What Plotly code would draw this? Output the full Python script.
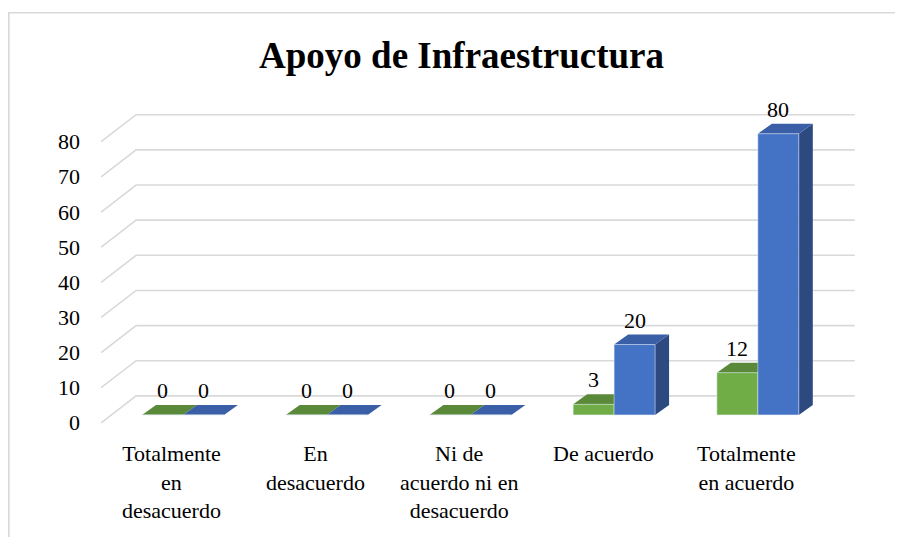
import plotly.graph_objects as go

categorias = [
    "Totalmente<br>en<br>desacuerdo",
    "En<br>desacuerdo",
    "Ni de<br>acuerdo ni en<br>desacuerdo",
    "De acuerdo",
    "Totalmente<br>en acuerdo",
]
serie_verde = [0, 0, 0, 3, 12]
serie_azul = [0, 0, 0, 20, 80]
y_ticks = [0, 10, 20, 30, 40, 50, 60, 70, 80]

FONT = "Liberation Serif"
GRID = "#D9D9D9"
VERDE, VERDE_TOP, VERDE_SIDE = "#70AD47", "#5A8A39", "#4E7A31"
AZUL, AZUL_TOP, AZUL_SIDE = "#4472C4", "#3A5FA6", "#2D4A80"

# the page body has an 8px margin, so the figure starts at (8, 8)
OFF = 8
W, H = 903 - OFF, 537 - OFF
# plot area given in page pixels
P_L, P_R, P_T, P_B = 68, 880, 81, 443
M_L, M_R, M_T, M_B = P_L - OFF, W - (P_R - OFF), P_T - OFF, H - (P_B - OFF)
X_RANGE = [-0.8, 4.85]
Y_RANGE = [-8, 95]
PX = (W - M_L - M_R) / (X_RANGE[1] - X_RANGE[0])  # px per category
KY = (H - M_T - M_B) / (Y_RANGE[1] - Y_RANGE[0])  # px per unit

BARGAP = 0.43
bw = (1 - BARGAP) / 2
dx, dy = 14 / PX, 10 / KY  # bar depth
fx, fy = 10 / PX, 8 / KY   # bar plane -> floor front
bx, by = 25 / PX, 19 / KY  # bar plane -> back wall


def px_to_paper_x(p):
    return (p - M_L) / (W - M_L - M_R)


def px_to_paper_y(p):
    return 1 - (p - M_T) / (H - M_T - M_B)


xs = list(range(len(categorias)))

fig = go.Figure()
fig.add_trace(go.Bar(x=xs, y=serie_verde, marker=dict(color=VERDE)))
fig.add_trace(go.Bar(x=xs, y=serie_azul, marker=dict(color=AZUL)))

shapes = []
# back wall grid with floor diagonals
xl_front = -0.5 - fx
xl_back = -0.5 + bx
xr_back = len(categorias) - 0.5 + bx
for v in y_ticks:
    shapes.append(dict(
        type="path", xref="x", yref="y", layer="below",
        path=f"M{xl_front},{v - fy} L{xl_back},{v + by} L{xr_back},{v + by}",
        line=dict(color=GRID, width=1.6),
    ))

# 3D top and side faces
for serie, off, top_c, side_c in [(serie_verde, -bw, VERDE_TOP, VERDE_SIDE),
                                  (serie_azul, 0, AZUL_TOP, AZUL_SIDE)]:
    for i, v in enumerate(serie):
        x0, x1 = i + off, i + off + bw
        shapes.append(dict(
            type="path", xref="x", yref="y", layer="below",
            path=f"M{x1},0 L{x1},{v} L{x1 + dx},{v + dy} L{x1 + dx},{dy} Z",
            fillcolor=side_c, line=dict(width=0),
        ))
        shapes.append(dict(
            type="path", xref="x", yref="y", layer="below",
            path=f"M{x0},{v} L{x1},{v} L{x1 + dx},{v + dy} L{x0 + dx},{v + dy} Z",
            fillcolor=top_c, line=dict(width=0),
        ))

# chart border (runs off the right and bottom edges)
shapes.append(dict(
    type="rect", xref="paper", yref="paper", layer="above",
    x0=px_to_paper_x(0.8), x1=px_to_paper_x(W + 10),
    y0=px_to_paper_y(H + 10), y1=px_to_paper_y(12.7 - OFF),
    line=dict(color=GRID, width=1.6), fillcolor="rgba(0,0,0,0)",
))

annotations = []
# value labels
for serie, off in [(serie_verde, -bw / 2), (serie_azul, bw / 2)]:
    for i, v in enumerate(serie):
        annotations.append(dict(
            x=i + off, y=v, xref="x", yref="y", text=str(v), showarrow=False,
            yanchor="middle", yshift=24.5, font=dict(family=FONT, size=22, color="black"),
        ))
# y tick labels
for v in y_ticks:
    annotations.append(dict(
        x=-0.5 - fx, y=v - fy, xref="x", yref="y", text=str(v), showarrow=False,
        xanchor="right", yanchor="middle", xshift=-19,
        font=dict(family=FONT, size=22, color="black"),
    ))
# category labels
for i, c in enumerate(categorias):
    annotations.append(dict(
        x=i - 11 / PX, y=0, xref="x", yref="paper", text=c, showarrow=False,
        xanchor="center", yanchor="top", yshift=4, align="center",
        font=dict(family=FONT, size=22, color="black"),
    ))

fig.update_layout(
    width=W,
    height=H,
    barmode="group",
    bargap=BARGAP,
    bargroupgap=0,
    showlegend=False,
    font=dict(family=FONT, color="black"),
    paper_bgcolor="white",
    plot_bgcolor="white",
    margin=dict(l=M_L, r=M_R, t=M_T, b=M_B),
    title=dict(
        text="<b>Apoyo de Infraestructura</b>",
        font=dict(family=FONT, size=37, color="black"),
        x=(461.5 - OFF) / W, xanchor="center",
        y=1 - (55 - OFF) / H, yanchor="middle",
    ),
    xaxis=dict(range=X_RANGE, visible=False),
    yaxis=dict(range=Y_RANGE, visible=False),
    shapes=shapes,
    annotations=annotations,
)

fig.write_html("out.html")
